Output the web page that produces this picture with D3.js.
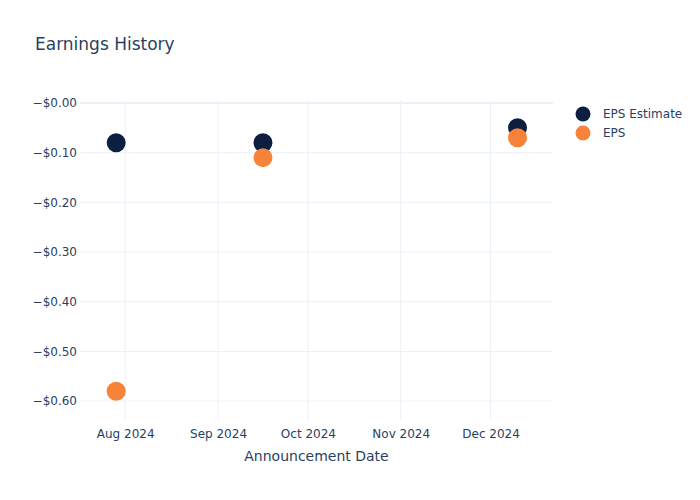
<!DOCTYPE html>
<html>
<head>
  <meta charset="utf-8">
  <title>Earnings History</title>
  <style>
    body { margin: 0; background: #fff; }
    text { font-family: "DejaVu Sans", Verdana, sans-serif; fill: #2a3f5f; }
  </style>
</head>
<body>
<script src="https://cdn.jsdelivr.net/npm/d3@7"></script>
<script>
  // data
  var dates       = ['2024-07-29', '2024-09-16', '2024-12-10'],
      epsEstimate = [-0.08, -0.08, -0.05],
      eps         = [-0.58, -0.11, -0.07],
      yTicks      = [0, -0.1, -0.2, -0.3, -0.4, -0.5, -0.6],
      xTicks      = ['2024-08-01', '2024-09-01', '2024-10-01', '2024-11-01', '2024-12-01'],
      seriesNames = ['EPS Estimate', 'EPS'],
      seriesColors = ['#0d1f40', '#f7823a'];

  var width = 700, height = 500,
      margin = { top: 100, right: 147, bottom: 80, left: 80 },
      parse = d3.utcParse('%Y-%m-%d');

  var svg = d3.select('body')
              .append('svg')
              .attr('width', width)
              .attr('height', height);

  var x = d3.scaleUtc()
            .domain([parse('2024-07-16').getTime() + 22 * 3600e3, parse('2024-12-21').getTime() + 20 * 3600e3])
            .range([margin.left, width - margin.right]);

  var y = d3.scaleLinear()
            .domain([-0.638, 0.006])
            .range([height - margin.bottom, margin.top]);

  var grid = svg.append('g');

  grid.selectAll('line.vx')
      .data(xTicks)
      .enter()
      .append('line')
      .attr('x1', function(d){ return x(parse(d)) })
      .attr('x2', function(d){ return x(parse(d)) })
      .attr('y1', margin.top)
      .attr('y2', height - margin.bottom)
      .attr('stroke', '#ebf0f8');

  grid.selectAll('line.hy')
      .data(yTicks)
      .enter()
      .append('line')
      .attr('x1', margin.left)
      .attr('x2', width - margin.right)
      .attr('y1', function(d){ return y(d) })
      .attr('y2', function(d){ return y(d) })
      .attr('stroke', '#ebf0f8')
      .attr('stroke-width', function(d){ return d === 0 ? 2 : 1 });

  var fmtMoney = function(d){ return '\u2212$' + Math.abs(d).toFixed(2) };

  var yAxis = svg.append('g')
     .attr('transform', 'translate(' + margin.left + ',0)')
     .call(d3.axisLeft(y).tickValues(yTicks).tickFormat(fmtMoney).tickSize(0).tickPadding(3));

  var xAxis = svg.append('g')
     .attr('transform', 'translate(0,' + (height - margin.bottom) + ')')
     .call(d3.axisBottom(x).tickValues(xTicks.map(parse)).tickFormat(d3.utcFormat('%b %Y')).tickSize(0).tickPadding(9));

  [xAxis, yAxis].forEach(function(a){
    a.select('.domain').remove();
    a.selectAll('text').style('font-size', '12px').attr('fill', '#2a3f5f');
  });

  svg.append('text')
     .attr('x', 35).attr('y', 50)
     .style('font-size', '17px')
     .text('Earnings History');

  svg.append('text')
     .attr('x', (margin.left + width - margin.right) / 2)
     .attr('y', 461)
     .attr('text-anchor', 'middle')
     .style('font-size', '14px')
     .text('Announcement Date');

  [epsEstimate, eps].forEach(function(values, i){
    svg.append('g')
       .selectAll('circle')
       .data(values)
       .enter()
       .append('circle')
       .attr('r', 9.5)
       .attr('cx', function(d, j){ return x(parse(dates[j])) })
       .attr('cy', function(d){ return y(d) })
       .attr('fill', seriesColors[i]);
  });

  var legend = svg.append('g')
                  .selectAll('g')
                  .data(seriesNames)
                  .enter()
                  .append('g')
                  .attr('transform', function(d, i){ return 'translate(583,' + (114 + i * 19) + ')' });

  legend.append('circle')
        .attr('r', 7.5)
        .attr('fill', function(d, i){ return seriesColors[i] });

  legend.append('text')
        .attr('x', 20)
        .attr('dy', '0.35em')
        .style('font-size', '12px')
        .text(function(d){ return d });
</script>
</body>
</html>
